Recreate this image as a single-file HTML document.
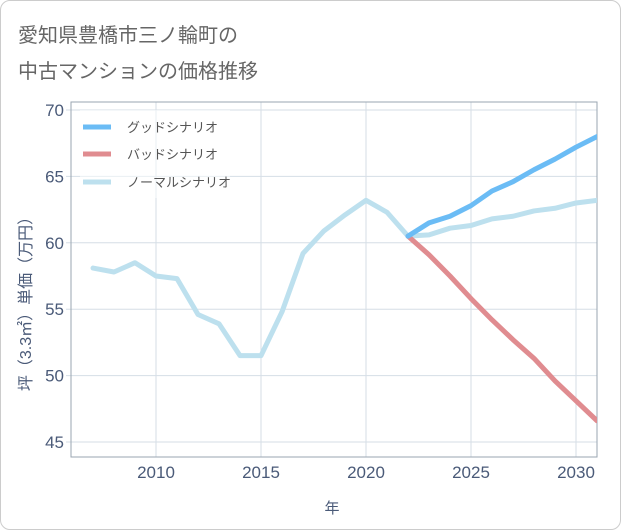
<!DOCTYPE html>
<html><head><meta charset="utf-8"><style>
body{margin:0;background:#fff;font-family:"Liberation Sans","Noto Sans CJK JP",sans-serif;}
#card{position:absolute;left:0;top:0;width:619px;height:528px;border:1px solid #ccc;border-radius:10px;background:#fff;}
</style></head><body>
<div id="card"></div>
<svg width="621" height="530" style="position:absolute;left:0;top:0">
<text x="18" y="42" font-size="20" fill="#666">愛知県豊橋市三ノ輪町の</text>
<text x="18" y="78" font-size="20" fill="#666">中古マンションの価格推移</text>
<g id="grid"></g>
<rect x="71" y="102" width="526" height="355" fill="none" stroke="#9aa5b1" stroke-width="1"/>
<g id="ticks" font-size="17" fill="#4a5a78"></g>
<g id="series"></g>
<text x="332" y="513" font-size="15" fill="#4a5a78" text-anchor="middle">年</text>
<text transform="translate(31,300) rotate(-90)" font-size="16" fill="#4a5a78" text-anchor="middle">坪（3.3㎡）単価（万円）</text>
<g>
<rect x="80" y="110" width="150" height="88" fill="#fff" opacity="0.5"/>
<line x1="83" y1="127" x2="111" y2="127" stroke="#6bbcf5" stroke-width="5"/>
<text x="127" y="132" font-size="13" fill="#555">グッドシナリオ</text>
<line x1="83" y1="154" x2="111" y2="154" stroke="#e08c90" stroke-width="5"/>
<text x="127" y="159" font-size="13" fill="#555">バッドシナリオ</text>
<line x1="83" y1="182" x2="111" y2="182" stroke="#bde0ee" stroke-width="5"/>
<text x="127" y="187" font-size="13" fill="#555">ノーマルシナリオ</text>
</g>
</svg>
<script>
const normalYears=[2007,2008,2009,2010,2011,2012,2013,2014,2015,2016,2017,2018,2019,2020,2021,2022,2023,2024,2025,2026,2027,2028,2029,2030,2031];
const normalValues=[58.1,57.8,58.5,57.5,57.3,54.6,53.9,51.5,51.5,54.8,59.2,60.9,62.1,63.2,62.3,60.5,60.6,61.1,61.3,61.8,62.0,62.4,62.6,63.0,63.2];
const forecastYears=[2022,2023,2024,2025,2026,2027,2028,2029,2030,2031];
const goodValues=[60.5,61.5,62.0,62.8,63.9,64.6,65.5,66.3,67.2,68.0];
const badValues=[60.5,59.1,57.5,55.8,54.2,52.7,51.3,49.6,48.1,46.6];
const xTicks=[2010,2015,2020,2025,2030];
const yTicks=[45,50,55,60,65,70];
const X=v=>156+(v-2010)*21;
const Y=v=>110+(70-v)*(332/25);
const NS="http://www.w3.org/2000/svg";
const grid=document.getElementById('grid'),ticks=document.getElementById('ticks'),ser=document.getElementById('series');
function mk(tag,attrs,parent){const e=document.createElementNS(NS,tag);for(const k in attrs)e.setAttribute(k,attrs[k]);parent.appendChild(e);return e;}
xTicks.forEach(t=>{
 const l=mk('line',{x1:X(t),x2:X(t),y1:102,y2:457,stroke:'#d5dee6'},grid);
 
 
 const tx=mk('text',{x:X(t),y:478,'text-anchor':'middle'},ticks);tx.textContent=t;
 
 
});
yTicks.forEach(t=>{
 const l=mk('line',{x1:66,x2:597,y1:Y(t),y2:Y(t),stroke:'#d5dee6'},grid);
 
 
 const tx=mk('text',{x:64,y:Y(t)+6,'text-anchor':'end'},ticks);tx.textContent=t;
 
 
});
function line(xs,vs,color,name){
 const p=mk('polyline',{points:xs.map((x,i)=>X(x)+','+Y(vs[i])).join(' '),fill:'none',stroke:color,'stroke-width':5,'stroke-linejoin':'round','stroke-linecap':'round'},ser);
 
 
}
const clip=mk('clipPath',{id:'c'},document.querySelector('svg'));mk('rect',{x:71,y:102,width:526,height:355},clip);
ser.setAttribute('clip-path','url(#c)');
line(normalYears,normalValues,'#bde0ee','normal-line');
line(forecastYears,badValues,'#e08c90','bad-line');
line(forecastYears,goodValues,'#6bbcf5','good-line');
</script>
</body></html>
